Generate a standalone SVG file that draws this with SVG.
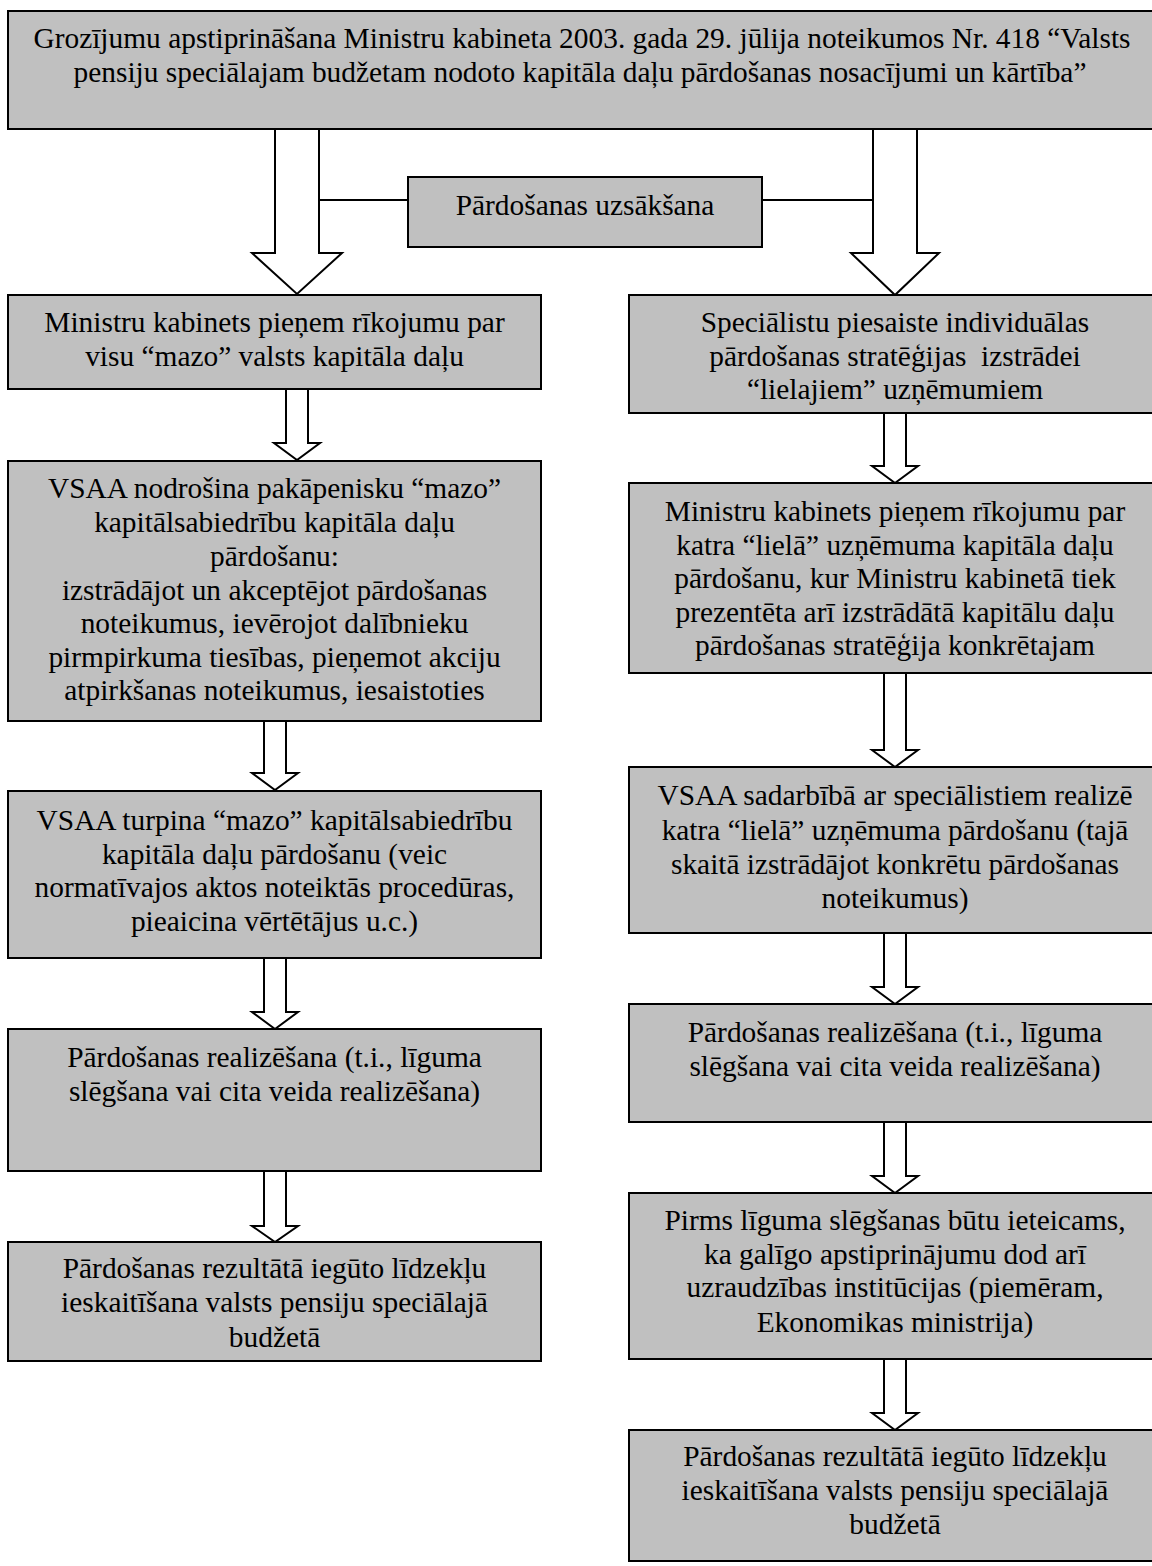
<svg xmlns="http://www.w3.org/2000/svg" width="1152" height="1566" viewBox="0 0 1152 1566">
<style>
.box{fill:#c0c0c0;stroke:#000;stroke-width:2}
.arr{fill:#fff;stroke:#000;stroke-width:2;stroke-linejoin:miter}
.ln{stroke:#000;stroke-width:2;fill:none}
text{font-family:"Liberation Serif","Times New Roman",serif;font-size:29.4px;fill:#000;text-anchor:middle;white-space:pre}
</style>
<rect width="1152" height="1566" fill="#fff"/>
<g id="connectors">
<polygon class="arr" points="275,129 319,129 319,253 342,253 297,294 252,253 275,253"/>
<polygon class="arr" points="873,129 917,129 917,253 939,253 895,295 851,253 873,253"/>
<line class="ln" x1="319" y1="200" x2="408" y2="200"/>
<line class="ln" x1="762" y1="200" x2="873" y2="200"/>
<polygon class="arr" points="286,389 308,389 308,443 320,443 297,460 274,443 286,443"/>
<polygon class="arr" points="264,721 286,721 286,773 298,773 275,790 252,773 264,773"/>
<polygon class="arr" points="264,958 286,958 286,1012 298,1012 275,1029 252,1012 264,1012"/>
<polygon class="arr" points="264,1171 286,1171 286,1226 298,1226 275,1242 252,1226 264,1226"/>
<polygon class="arr" points="884,413 906,413 906,466 918,466 895,483 872,466 884,466"/>
<polygon class="arr" points="884,673 906,673 906,750 918,750 895,767 872,750 884,750"/>
<polygon class="arr" points="884,933 906,933 906,987 918,987 895,1004 872,987 884,987"/>
<polygon class="arr" points="884,1122 906,1122 906,1176 918,1176 895,1193 872,1176 884,1176"/>
<polygon class="arr" points="884,1359 906,1359 906,1413 918,1413 895,1430 872,1413 884,1413"/>
</g>
<g id="top">
<rect class="box" x="8" y="11" width="1152" height="118"/>
<text x="582" y="48">Grozījumu apstiprināšana Ministru kabineta 2003. gada 29. jūlija noteikumos Nr. 418 “Valsts</text>
<text x="580" y="82">pensiju speciālajam budžetam nodoto kapitāla daļu pārdošanas nosacījumi un kārtība”</text>
</g>
<g id="start">
<rect class="box" x="408" y="177" width="354" height="70"/>
<text x="585" y="215">Pārdošanas uzsākšana</text>
</g>
<g id="L1">
<rect class="box" x="8" y="295" width="533" height="94"/>
<text x="274.5" y="332">Ministru kabinets pieņem rīkojumu par</text>
<text x="274.5" y="366">visu “mazo” valsts kapitāla daļu</text>
</g>
<g id="L2">
<rect class="box" x="8" y="461" width="533" height="260"/>
<text x="274.5" y="498">VSAA nodrošina pakāpenisku “mazo”</text>
<text x="274.5" y="532">kapitālsabiedrību kapitāla daļu</text>
<text x="274.5" y="566">pārdošanu:</text>
<text x="274.5" y="600">izstrādājot un akceptējot pārdošanas</text>
<text x="274.5" y="633">noteikumus, ievērojot dalībnieku</text>
<text x="274.5" y="667">pirmpirkuma tiesības, pieņemot akciju</text>
<text x="274.5" y="700">atpirkšanas noteikumus, iesaistoties</text>
</g>
<g id="L3">
<rect class="box" x="8" y="791" width="533" height="167"/>
<text x="274.5" y="830">VSAA turpina “mazo” kapitālsabiedrību</text>
<text x="274.5" y="864">kapitāla daļu pārdošanu (veic</text>
<text x="274.5" y="897">normatīvajos aktos noteiktās procedūras,</text>
<text x="274.5" y="931">pieaicina vērtētājus u.c.)</text>
</g>
<g id="L4">
<rect class="box" x="8" y="1029" width="533" height="142"/>
<text x="274.5" y="1067">Pārdošanas realizēšana (t.i., līguma</text>
<text x="274.5" y="1101">slēgšana vai cita veida realizēšana)</text>
</g>
<g id="L5">
<rect class="box" x="8" y="1242" width="533" height="119"/>
<text x="274.5" y="1278">Pārdošanas rezultātā iegūto līdzekļu</text>
<text x="274.5" y="1312">ieskaitīšana valsts pensiju speciālajā</text>
<text x="274.5" y="1347">budžetā</text>
</g>
<g id="R1">
<rect class="box" x="629" y="295" width="531" height="118"/>
<text x="895" y="332">Speciālistu piesaiste individuālas</text>
<text x="895" y="366">pārdošanas stratēģijas  izstrādei</text>
<text x="895" y="399">“lielajiem” uzņēmumiem</text>
</g>
<g id="R2">
<rect class="box" x="629" y="483" width="531" height="190"/>
<text x="895" y="521">Ministru kabinets pieņem rīkojumu par</text>
<text x="895" y="555">katra “lielā” uzņēmuma kapitāla daļu</text>
<text x="895" y="588">pārdošanu, kur Ministru kabinetā tiek</text>
<text x="895" y="622">prezentēta arī izstrādātā kapitālu daļu</text>
<text x="895" y="655">pārdošanas stratēģija konkrētajam</text>
</g>
<g id="R3">
<rect class="box" x="629" y="767" width="531" height="166"/>
<text x="895" y="805">VSAA sadarbībā ar speciālistiem realizē</text>
<text x="895" y="840">katra “lielā” uzņēmuma pārdošanu (tajā</text>
<text x="895" y="874">skaitā izstrādājot konkrētu pārdošanas</text>
<text x="895" y="908">noteikumus)</text>
</g>
<g id="R4">
<rect class="box" x="629" y="1004" width="531" height="118"/>
<text x="895" y="1042">Pārdošanas realizēšana (t.i., līguma</text>
<text x="895" y="1076">slēgšana vai cita veida realizēšana)</text>
</g>
<g id="R5">
<rect class="box" x="629" y="1193" width="531" height="166"/>
<text x="895" y="1230">Pirms līguma slēgšanas būtu ieteicams,</text>
<text x="895" y="1264">ka galīgo apstiprinājumu dod arī</text>
<text x="895" y="1297">uzraudzības institūcijas (piemēram,</text>
<text x="895" y="1332">Ekonomikas ministrija)</text>
</g>
<g id="R6">
<rect class="box" x="629" y="1430" width="531" height="131"/>
<text x="895" y="1466">Pārdošanas rezultātā iegūto līdzekļu</text>
<text x="895" y="1500">ieskaitīšana valsts pensiju speciālajā</text>
<text x="895" y="1534">budžetā</text>
</g>
</svg>
